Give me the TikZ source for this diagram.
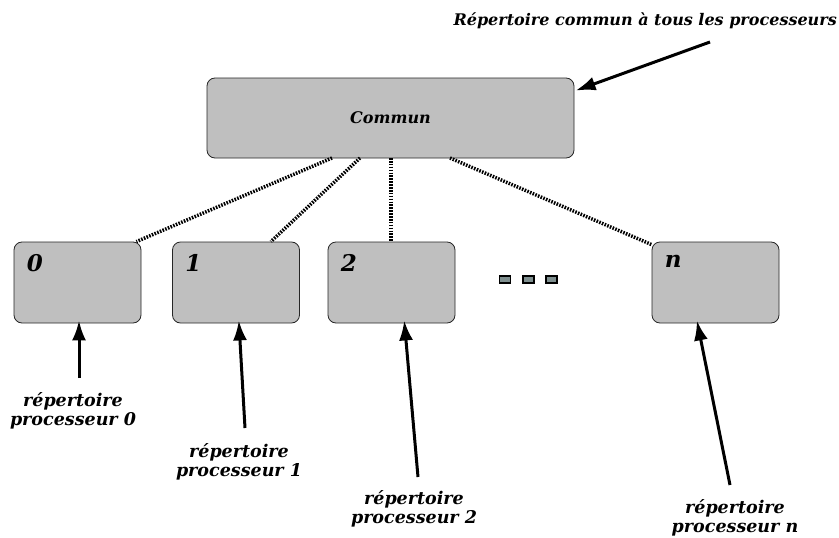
\documentclass[tikz,border=0pt]{standalone}
\usepackage{fontspec}
\setmainfont{DejaVu Serif}
\usepackage{tikz}
\usetikzlibrary{positioning,arrows.meta}

\definecolor{boxgray}{RGB}{191,191,191}
\definecolor{dotgray}{RGB}{127,143,143}

\tikzset{
  box/.style={draw=black!85, fill=boxgray, rounded corners=8pt, line width=0.8pt, inner sep=0pt},
  procbox/.style={box, minimum width=127pt, minimum height=81pt},
  boxnum/.style={anchor=north west, inner sep=0pt, font=\fontsize{23}{26}\selectfont\bfseries\itshape},
  lbl/.style={align=center, inner sep=0pt, font=\fontsize{17.5}{19}\selectfont\bfseries\itshape},
  link/.style={line width=3.5pt, dash pattern=on 1.6pt off 1.3pt},
  pointer/.style={-{Latex[length=20pt,width=14pt]}, line width=3pt, shorten >=-3pt},
  dotbox/.style={draw=black, fill=dotgray, line width=1.2pt, minimum width=11pt, minimum height=7pt, inner sep=0pt}
}

\begin{document}
\begin{tikzpicture}[x=1pt, y=-1pt]
  \useasboundingbox (0,0) rectangle (839,538);

  \node[box, minimum width=367pt, minimum height=80pt, font=\fontsize{16}{19}\selectfont\bfseries\itshape] (commun) at (390.5,118) {Commun};
  \node[lbl, anchor=east, font=\fontsize{16}{19}\selectfont\bfseries\itshape] (titre) at (837,21) {Répertoire commun à tous les processeurs};

  \node[procbox] (p0) at (77.5,282.5) {};
  \node[procbox] (p1) at (236,282.5) {};
  \node[procbox] (p2) at (391.5,282.5) {};
  \node[procbox] (pn) at (715.5,282.5) {};
  \foreach \p/\t in {p0/0, p1/1, p2/2, pn/n}
    \node[boxnum] (num\p) at ([xshift=13pt, yshift=-13pt]\p.north west) {\t};

  \node[dotbox] (d1) at (505,279.5) {};
  \node[dotbox] (d2) at (528.5,279.5) {};
  \node[dotbox] (d3) at (551.5,279.5) {};

  \coordinate (c0) at (332,158);
  \coordinate (c1) at (360,158);
  \coordinate (c2) at (391,158);
  \coordinate (cn) at (450,158);
  \draw[link] (c0) -- ([xshift=-5pt]p0.north east);
  \draw[link] (c1) -- ([xshift=-29pt]p1.north east);
  \draw[link] (c2) -- (c2 |- p2.north);
  \draw[link] (cn) -- ([yshift=-3pt]pn.north west);

  \node[lbl] (r0) at (73,411) {répertoire\\processeur 0};
  \node[lbl] (r1) at (239,462) {répertoire\\processeur 1};
  \node[lbl] (r2) at (414,509) {répertoire\\processeur 2};
  \node[lbl] (rn) at (735,518) {répertoire\\processeur n};

  \coordinate (a0) at (79,378);
  \coordinate (a1) at (245,428);
  \coordinate (a2) at (418,477);
  \coordinate (an) at (730,485);
  \draw[pointer] (a0) -- (a0 |- p0.south);
  \draw[pointer] (a1) -- ([xshift=3pt]p1.south);
  \draw[pointer] (a2) -- ([xshift=13pt]p2.south);
  \draw[pointer] (an) -- ([xshift=-18pt]pn.south);

  \coordinate (at) at (710,42);
  \draw[pointer] (at) -- ([xshift=4pt, yshift=-12pt]commun.north east);
\end{tikzpicture}
\end{document}
